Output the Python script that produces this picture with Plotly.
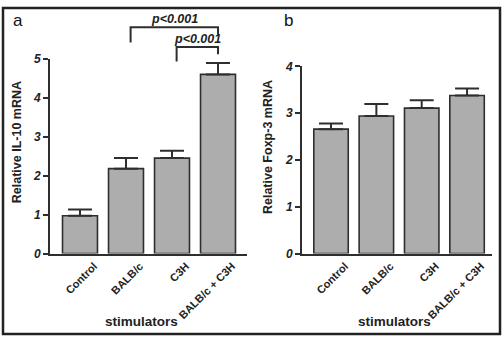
import plotly.graph_objects as go

W, H = 504, 344

categories = ["Control", "BALB/c", "C3H", "BALB/c + C3H"]
il10_mean = [0.97, 2.18, 2.45, 4.60]
il10_err = [0.16, 0.27, 0.19, 0.29]
foxp3_mean = [2.66, 2.94, 3.11, 3.38]
foxp3_err = [0.12, 0.26, 0.17, 0.15]
il10_ticks = [0, 1, 2, 3, 4, 5]
foxp3_ticks = [0, 1, 2, 3, 4]
p_label = "p<0.001"

FONT = "Liberation Sans, Arial, sans-serif"
BAR_FILL = "#adadad"
DARK = "#2e2e2e"

# layout in pixels
A_X = (50, 247); A_Y = (54, 257)
B_X = (302, 492); B_Y = (62, 257)
A_XR = [-0.652, 3.63]; B_XR = [-0.64, 3.55]
A_YR = [0, 5]; B_YR = [0, 4]


def xdom(px):
    return [px[0] / W, px[1] / W]


def ydom(py):
    return [1 - py[1] / H, 1 - py[0] / H]


def data_to_paper_x(v, rng, px):
    return (px[0] + (v - rng[0]) / (rng[1] - rng[0]) * (px[1] - px[0])) / W


def data_to_paper_y(v, rng, py):
    pix = py[1] - (v - rng[0]) / (rng[1] - rng[0]) * (py[1] - py[0])
    return 1 - pix / H


fig = go.Figure()
for xa, ya, means, errs in [("x", "y", il10_mean, il10_err), ("x2", "y2", foxp3_mean, foxp3_err)]:
    fig.add_trace(go.Bar(
        x=list(range(len(categories))), y=means, xaxis=xa, yaxis=ya,
        width=0.76,
        marker=dict(color=BAR_FILL, line=dict(color=DARK, width=1.6)),
        error_y=dict(type="data", symmetric=False, array=errs, arrayminus=[0] * len(errs),
                     color=DARK, thickness=2, width=12),
        showlegend=False, hoverinfo="skip",
    ))

axis_common = dict(showline=True, linecolor=DARK, linewidth=2, showgrid=False, zeroline=False)
xcommon = dict(axis_common, tickmode="array", tickvals=list(range(len(categories))), ticktext=categories,
               tickangle=-45, ticks="", ticklabelshift=14, ticklabelstandoff=0,
               tickfont=dict(family=FONT, size=11, color="#222", weight="bold"))
ycommon = dict(axis_common, ticks="outside", ticklen=5, tickwidth=2, tickcolor=DARK,
               tickfont=dict(family=FONT, size=12, color="#222", weight="bold", style="italic"))

fig.update_layout(
    width=W, height=H, margin=dict(l=0, r=0, t=0, b=0),
    paper_bgcolor="white", plot_bgcolor="white",
    xaxis=dict(xcommon, domain=xdom(A_X), range=A_XR, anchor="y"),
    yaxis=dict(ycommon, domain=ydom(A_Y), range=A_YR, tickvals=il10_ticks, anchor="x"),
    xaxis2=dict(xcommon, domain=xdom(B_X), range=B_XR, anchor="y2"),
    yaxis2=dict(ycommon, domain=ydom(B_Y), range=B_YR, tickvals=foxp3_ticks, anchor="x2"),
)

shapes = []
# outer frame
shapes.append(dict(type="rect", xref="paper", yref="paper", x0=3 / W, x1=500 / W, y0=1 - 341 / H, y1=1 - 1 / H,
                   line=dict(color="#222", width=2.5)))

# significance brackets (panel a): (left index, right index, top, left leg bottom, right leg bottom)
brackets = [(1.1, 3.0, 5.81, 5.42, 5.62), (2.1, 3.0, 5.30, 4.93, 5.12)]
annotations = []
for li, ri, top, lb, rb in brackets:
    xl = data_to_paper_x(li, A_XR, A_X); xr = data_to_paper_x(ri, A_XR, A_X)
    yt = data_to_paper_y(top, A_YR, A_Y)
    yl = data_to_paper_y(lb, A_YR, A_Y); yr = data_to_paper_y(rb, A_YR, A_Y)
    shapes.append(dict(type="path", xref="paper", yref="paper",
                       path=f"M {xl} {yl} L {xl} {yt} L {xr} {yt} L {xr} {yr}",
                       line=dict(color=DARK, width=2)))
    annotations.append(dict(x=(xl + xr) / 2, y=yt - 1 / H, xref="paper", yref="paper", text=p_label,
                            showarrow=False, xanchor="center", yanchor="bottom",
                            font=dict(family=FONT, size=12.5, color="#222", weight="bold", style="italic")))

# panel letters
annotations.append(dict(x=18 / W, y=1 - 14 / H, xref="paper", yref="paper", text="a", showarrow=False,
                        xanchor="center", yanchor="middle", font=dict(family=FONT, size=17, color="#111")))
annotations.append(dict(x=288 / W, y=1 - 14 / H, xref="paper", yref="paper", text="b", showarrow=False,
                        xanchor="center", yanchor="middle", font=dict(family=FONT, size=17, color="#111")))

# axis titles
for x, y, t in [(17, 141, "Relative IL-10 mRNA"), (268, 146, "Relative Foxp-3 mRNA")]:
    annotations.append(dict(x=x / W, y=1 - y / H, xref="paper", yref="paper", text=t, showarrow=False,
                            textangle=-90, xanchor="center", yanchor="middle",
                            font=dict(family=FONT, size=12.5, color="#222", weight="bold")))
for x in (141, 394):
    annotations.append(dict(x=x / W, y=1 - 328 / H, xref="paper", yref="paper", text="stimulators",
                            showarrow=False, xanchor="center", yanchor="middle",
                            font=dict(family=FONT, size=13.5, color="#222", weight="bold")))

fig.update_layout(shapes=shapes, annotations=annotations)
fig.write_html("out.html", config={"displayModeBar": False, "staticPlot": True})

# remove default page margin so the figure sits at the window origin
with open("out.html", "r", encoding="utf-8") as f:
    html = f.read()
html = html.replace("<head>", "<head><style>html,body{margin:0;padding:0;overflow:hidden;}</style>", 1)
with open("out.html", "w", encoding="utf-8") as f:
    f.write(html)
